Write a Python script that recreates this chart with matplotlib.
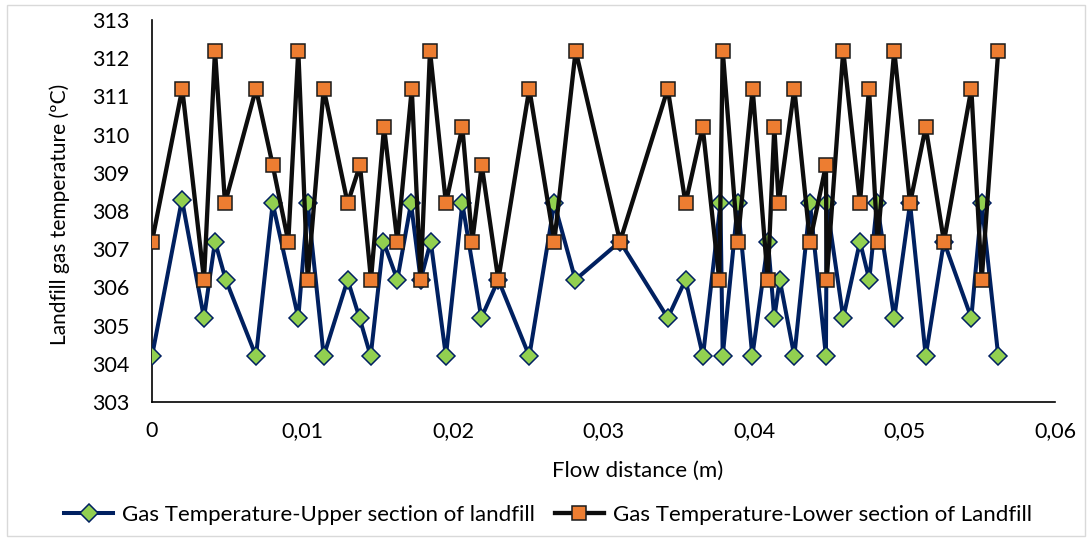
import matplotlib
matplotlib.use('Agg')
import matplotlib.pyplot as plt
from matplotlib.ticker import FuncFormatter, MultipleLocator
from matplotlib.patches import Rectangle

# flow distance (m) and temperature
upper_x = [0.0, 0.00199, 0.003455, 0.004186, 0.0049, 0.00691, 0.00802, 0.00972,
           0.010346, 0.01141, 0.013, 0.01379, 0.01453, 0.01538, 0.0163, 0.01721,
           0.01785, 0.01852, 0.01953, 0.02062, 0.02188, 0.02301, 0.02507, 0.02673,
           0.02813, 0.0311, 0.03427, 0.03545, 0.03661, 0.03777, 0.03792, 0.03892,
           0.03989, 0.04093, 0.04135, 0.04171, 0.04268, 0.04372, 0.04478, 0.04483,
           0.04593, 0.04704, 0.04766, 0.04817, 0.04932, 0.05037, 0.05141, 0.05262,
           0.05444, 0.05513, 0.05623]
upper_t = [304.2, 308.3, 305.2, 307.2, 306.2, 304.2, 308.2, 305.2,
           308.2, 304.2, 306.2, 305.2, 304.2, 307.2, 306.2, 308.2,
           306.2, 307.2, 304.2, 308.2, 305.2, 306.2, 304.2, 308.2,
           306.2, 307.2, 305.2, 306.2, 304.2, 308.2, 304.2, 308.2,
           304.2, 307.2, 305.2, 306.2, 304.2, 308.2, 304.2, 308.2,
           305.2, 307.2, 306.2, 308.2, 305.2, 308.2, 304.2, 307.2,
           305.2, 308.2, 304.2]

lower_x = [0.0, 0.00201, 0.003455, 0.004186, 0.00485, 0.00691, 0.00802, 0.009056,
           0.00972, 0.010346, 0.01141, 0.013, 0.01382, 0.01455, 0.01542, 0.0163,
           0.01726, 0.01785, 0.01847, 0.01953, 0.02062, 0.02128, 0.02191, 0.02301,
           0.02507, 0.02673, 0.02815, 0.0311, 0.03427, 0.03545, 0.03659, 0.03769,
           0.03792, 0.03892, 0.03991, 0.04091, 0.04135, 0.04164, 0.04268, 0.04372,
           0.04478, 0.04483, 0.04593, 0.04704, 0.04764, 0.04821, 0.04932, 0.05037,
           0.05141, 0.05262, 0.05444, 0.05513, 0.05623]
lower_t = [307.2, 311.2, 306.2, 312.2, 308.2, 311.2, 309.2, 307.2,
           312.2, 306.2, 311.2, 308.2, 309.2, 306.2, 310.2, 307.2,
           311.2, 306.2, 312.2, 308.2, 310.2, 307.2, 309.2, 306.2,
           311.2, 307.2, 312.2, 307.2, 311.2, 308.2, 310.2, 306.2,
           312.2, 307.2, 311.2, 306.2, 310.2, 308.2, 311.2, 307.2,
           309.2, 306.2, 312.2, 308.2, 311.2, 307.2, 312.2, 308.2,
           310.2, 307.2, 311.2, 306.2, 312.2]

upper_label = 'Gas Temperature-Upper section of landfill'
lower_label = 'Gas Temperature-Lower section of Landfill'

plt.rcParams['font.family'] = ['Lato', 'DejaVu Sans']

fig = plt.figure(figsize=(10.91, 5.38), dpi=100)
ax = fig.add_axes([152 / 1091, 1 - 402 / 538, 903 / 1091, 382 / 538])

ax.plot(upper_x, upper_t, color='#002060', lw=2.9, marker='D', ms=8.8,
        mfc='#92D050', mec='#002060', mew=1.1, label=upper_label, zorder=3)
ax.plot(lower_x, lower_t, color='#0d0d0d', lw=3.1, marker='s', ms=10.5,
        mfc='#ED7D31', mec='#1a1a1a', mew=1.1, label=lower_label, zorder=4)

ax.set_xlim(0, 0.06)
ax.set_ylim(303, 313)
ax.xaxis.set_major_locator(MultipleLocator(0.01))
ax.yaxis.set_major_locator(MultipleLocator(1))
ax.xaxis.set_major_formatter(FuncFormatter(
    lambda v, p: '0' if abs(v) < 1e-9 else ('%.2f' % v).replace('.', ',')))
ax.yaxis.set_major_formatter(FuncFormatter(lambda v, p: '%d' % round(v)))
ax.tick_params(length=0, labelsize=15.5, colors='#000000')
ax.tick_params(axis='y', pad=16)
ax.tick_params(axis='x', pad=14)

for s in ['top', 'right']:
    ax.spines[s].set_visible(False)
for s in ['left', 'bottom']:
    ax.spines[s].set_color('#000000')
    ax.spines[s].set_linewidth(1.2)

fig.text(60 / 1091, 1 - 214 / 538, 'Landfill gas temperature (ºC)', rotation=90,
         ha='center', va='center', fontsize=15)
fig.text(638 / 1091, 1 - 471 / 538, 'Flow distance (m)', ha='center', va='center',
         fontsize=16)

fig.legend(loc='center', bbox_to_anchor=(548 / 1091, 1 - 515 / 538), ncol=2,
           frameon=False, fontsize=16, handlelength=2.2, columnspacing=0.9,
           handletextpad=0.4)

fig.patches.append(Rectangle((7 / 1091, 2 / 538), 1078 / 1091, 531 / 538,
                             transform=fig.transFigure, fill=False,
                             edgecolor='#d9d9d9', lw=1))

fig.savefig('out.png', dpi=100)
